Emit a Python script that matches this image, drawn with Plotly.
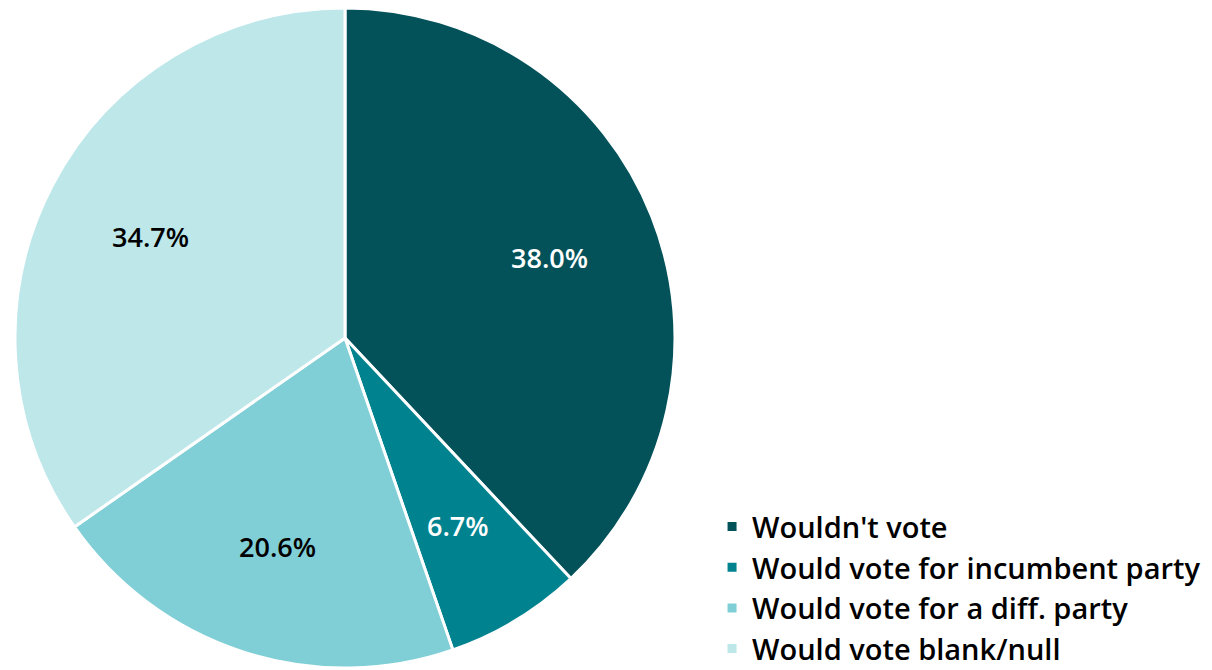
import math
import plotly.graph_objects as go

labels = ["Wouldn't vote", "Would vote for incumbent party", "Would vote for a diff. party", "Would vote blank/null"]
values = [38.0, 6.7, 20.6, 34.7]
colors = ["#03525A", "#00838F", "#80CFD6", "#BEE7EA"]
text_colors = ["white", "white", "black", "black"]

W, H = 1212, 670
cx_px, cy_px, R = 345, 338, 330
dom_x = [(cx_px - R) / W, (cx_px + R) / W]
dom_y = [max(0, (H - cy_px - R) / H), min(1, (H - cy_px + R) / H)]

fig = go.Figure(go.Pie(
    labels=labels,
    values=values,
    sort=False,
    direction="clockwise",
    rotation=0,
    marker=dict(colors=colors, line=dict(color="white", width=3)),
    textinfo="none",
    domain=dict(x=dom_x, y=dom_y),
    hoverinfo="label+percent",
))

# percentage labels placed along each slice's mid-angle
total = sum(values)
cum = 0.0
for v, tc in zip(values, text_colors):
    mid = (cum + v / 2) / total * 2 * math.pi
    cum += v
    r = 0.665 * R
    x = (cx_px + r * math.sin(mid)) / W
    y = (H - cy_px + r * math.cos(mid)) / H
    fig.add_annotation(
        x=x, y=y, xref="paper", yref="paper", showarrow=False,
        xanchor="center", yanchor="middle",
        text=f"{v / total * 100:.1f}%",
        font=dict(family="Open Sans", size=27, color=tc, weight=600),
    )

fig.update_layout(
    width=W, height=H,
    margin=dict(l=0, r=0, t=0, b=0, autoexpand=False),
    paper_bgcolor="white",
    font=dict(family="Open Sans", color="black"),
    showlegend=True,
    legend=dict(
        x=0.5875, y=0.252, xanchor="left", yanchor="top",
        font=dict(family="Open Sans", size=29, color="black", weight=600),
        tracegroupgap=0,
    ),
)

fig.write_html("out.html", config={"displayModeBar": False},
               post_script="document.body.style.margin='0';")
